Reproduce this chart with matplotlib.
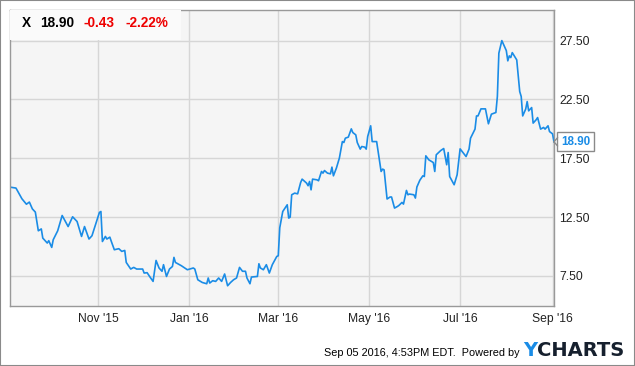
import numpy as np
import matplotlib
matplotlib.use("Agg")
import matplotlib.pyplot as plt
import matplotlib.dates as mdates
from matplotlib.patches import Rectangle

# price of X; days counted from START
START = "2015-09-03"
END = "2016-09-02"
days = [0, 4, 8, 11, 13, 15, 17, 19, 21, 22, 25, 26, 28, 29, 32, 35, 39, 42, 45, 48,
        50, 53, 55, 60, 61, 62, 64, 65, 67, 68, 70, 73, 75, 77, 78, 81, 83, 85, 89, 90,
        92, 94, 96, 98, 100, 102, 103, 105, 107, 109, 110, 111, 115, 119, 123, 124, 126,
        129, 132, 133, 134, 136, 138, 140, 142, 144, 146, 148, 150, 152, 154, 156, 158,
        159, 161, 162, 166, 167, 168, 170, 172, 174, 176, 179, 180, 181, 183, 186, 187,
        188, 189, 191, 193, 195, 196, 199, 200, 201, 202, 203, 206, 207, 209, 210, 211,
        213, 215, 216, 217, 219, 221, 223, 224, 225, 227, 229, 230, 232, 233, 235, 236,
        238, 239, 240, 242, 243, 246, 249, 250, 251, 253, 255, 256, 258, 260, 261, 263,
        264, 266, 267, 268, 271, 272, 273, 275, 277, 278, 279, 281, 284, 285, 286, 289,
        291, 293, 294, 295, 298, 300, 302, 306, 308, 309, 312, 313, 314, 316, 319, 321,
        323, 326, 327, 328, 330, 333, 334, 335, 336, 337, 340, 342, 343, 344, 346, 347,
        348, 350, 351, 353, 354, 356, 358, 359, 361, 362, 364, 365]
prices = [15.05, 14.97, 14.06, 13.6, 13.78, 13.2, 12.93, 11.34, 11.5, 10.72, 10.3, 10.5,
          9.93, 10.58, 11.34, 12.64, 11.7, 12.53, 12.13, 10.86, 11.7, 10.64, 10.92, 12.9,
          12.98, 10.43, 10.86, 10.64, 10.8, 10.43, 9.73, 9.82, 9.59, 9.67, 8.65, 8.09,
          8.23, 8.09, 8.09, 7.75, 7.78, 7.4, 7.04, 8.82, 8.18, 7.9, 8.46, 7.46, 8.09, 8.31,
          9.08, 8.65, 8.37, 8.03, 8.18, 8.09, 7.18, 6.95, 6.84, 7.33, 6.9, 7.1, 7.04, 7.33,
          7.04, 7.67, 6.67, 6.95, 7.18, 7.33, 8.23, 7.9, 7.9, 7.33, 6.84, 7.41, 7.46, 8.54,
          8.18, 8.03, 8.46, 7.75, 8.46, 9.16, 9.22, 11.6, 12.98, 13.55, 12.42, 12.5, 14.4,
          14.54, 14.48, 15.44, 15.73, 15.39, 15.17, 15.53, 14.82, 15.73, 15.67, 15.59,
          16.38, 16.24, 16.46, 16.24, 16.18, 16.75, 16.01, 16.67, 17.52, 18.92, 18.84,
          19.21, 19.3, 20.0, 19.69, 19.49, 18.84, 18.28, 18.5, 18.45, 18.28, 19.35, 20.26,
          18.92, 18.92, 16.38, 16.58, 16.52, 14.04, 14.21, 14.21, 13.27, 13.41, 13.5,
          13.75, 13.61, 14.77, 14.4, 14.46, 14.4, 14.12, 15.06, 15.64, 16.01, 15.95, 17.71,
          17.37, 17.14, 16.38, 17.8, 18.16, 18.33, 16.95, 17.99, 15.95, 15.25, 16.1, 18.3,
          17.65, 18.28, 19.21, 19.98, 21.1, 21.1, 21.7, 21.7, 20.43, 21.25, 21.39, 22.75,
          26.43, 27.5, 26.65, 25.78, 26.2, 26.06, 26.48, 25.86, 23.17, 22.75, 21.1, 21.68,
          22.32, 21.53, 21.81, 20.49, 20.77, 20.96, 19.98, 20.12, 19.98, 20.26, 19.77,
          19.58, 18.90]
y_ticks = [7.5, 12.5, 17.5, 22.5, 27.5]
x_ticks = ["2015-11-01", "2016-01-01", "2016-03-01", "2016-05-01", "2016-07-01", "2016-09-01"]

ticker = "X"
last = "18.90"
change = "-0.43"
change_pct = "-2.22%"
footer = "Sep 05 2016, 4:53PM EDT.  Powered by"

LINE = "#1a8ce6"

plt.rcParams["font.family"] = ["Liberation Sans", "DejaVu Sans"]

dates = np.datetime64(START) + np.array(days).astype("timedelta64[D]")

fig = plt.figure(figsize=(6.35, 3.66), dpi=100)
fig.patches.append(Rectangle((0, 0), 1, 1, transform=fig.transFigure, fill=False,
                             edgecolor="#8a8a8a", linewidth=1.5))

ax = fig.add_axes([10 / 635, 60 / 366, 544 / 635, 296 / 366])
ax.set_facecolor("#f5f5f5")
ax.plot(dates, prices, color=LINE, linewidth=1.2)

ax.set_xlim(np.datetime64(START), np.datetime64(END))
ax.set_ylim(4.95, 30.1)
ax.set_yticks(y_ticks)
ax.set_yticklabels([f"{v:.2f}" for v in y_ticks])
ax.yaxis.tick_right()
ax.set_xticks([np.datetime64(d) for d in x_ticks])
ax.xaxis.set_major_formatter(mdates.DateFormatter("%b '%y"))
ax.tick_params(axis="both", length=0, labelsize=8.7, colors="#222222")
ax.tick_params(axis="y", pad=4)
ax.tick_params(axis="x", pad=5)
ax.grid(True, color="#d6d6d6", linewidth=1)
ax.set_axisbelow(True)
for sp in ax.spines.values():
    sp.set_color("#999999")
    sp.set_linewidth(1)

# header box with the quote
ax.add_patch(Rectangle((0, 0.9), 0.315, 0.1, transform=ax.transAxes,
                       facecolor="#fafafa", edgecolor="none", zorder=3))
hy = 1 - 13 / 296
for xpos, txt, col in [(12, ticker, "black"), (30, last, "black"),
                       (74, change, "#ee0000"), (115, change_pct, "#ee0000")]:
    ax.text(xpos / 544, hy, txt, transform=ax.transAxes, fontsize=9.8, fontweight="bold",
            color=col, va="center", zorder=4)

# last price callout with a "<" notch pointing at the final point
ax.annotate(last, xy=(dates[-1], prices[-1]), xytext=(5, 0), textcoords="offset points",
            fontsize=8.4, fontweight="bold", color=LINE, va="center", ha="left",
            annotation_clip=False, zorder=5,
            bbox=dict(boxstyle="square,pad=0.3", facecolor="white", edgecolor="#8a8a8a",
                      linewidth=1))
for dy in (3, -3):
    ax.annotate("", xy=(dates[-1], prices[-1]), xytext=(2.6, dy),
                textcoords="offset points", annotation_clip=False, zorder=6,
                arrowprops=dict(arrowstyle="-", color="#8a8a8a", linewidth=1,
                                shrinkA=0, shrinkB=0))

fig.text(520 / 635, 1 - 353 / 366, footer, fontsize=7.8, color="black", ha="right",
         va="center")
fig.text(523 / 635, 1 - 350 / 366, "Y", fontsize=14, fontweight="heavy", color="#1a8ce6",
         va="center", ha="left", family="DejaVu Sans")
fig.text(537 / 635, 1 - 350 / 366, "CHARTS", fontsize=14, fontweight="heavy",
         color="#16202e", va="center", ha="left", family="DejaVu Sans")

fig.savefig("out.png", dpi=100)
